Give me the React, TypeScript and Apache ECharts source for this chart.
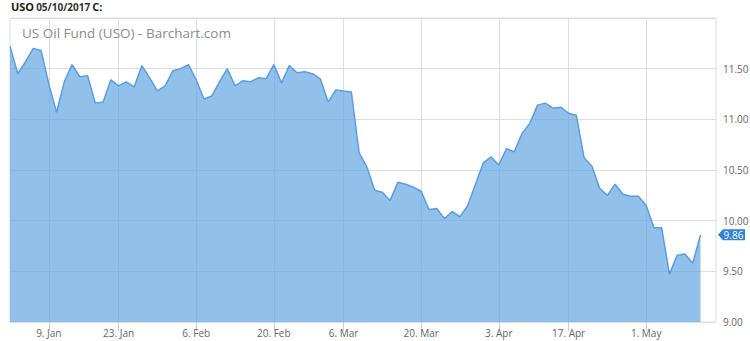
import React, { useEffect, useRef } from "react";
import * as echarts from "echarts";

// Trading days (2016-12-30 .. 2017-05-10) plus two empty future slots on the axis
const dates: string[] = [
  "2016-12-30",
  "2017-01-03", "2017-01-04", "2017-01-05", "2017-01-06",
  "2017-01-09", "2017-01-10", "2017-01-11", "2017-01-12", "2017-01-13",
  "2017-01-17", "2017-01-18", "2017-01-19", "2017-01-20",
  "2017-01-23", "2017-01-24", "2017-01-25", "2017-01-26", "2017-01-27",
  "2017-01-30", "2017-01-31",
  "2017-02-01", "2017-02-02", "2017-02-03",
  "2017-02-06", "2017-02-07", "2017-02-08", "2017-02-09", "2017-02-10",
  "2017-02-13", "2017-02-14", "2017-02-15", "2017-02-16", "2017-02-17",
  "2017-02-21", "2017-02-22", "2017-02-23", "2017-02-24",
  "2017-02-27", "2017-02-28",
  "2017-03-01", "2017-03-02", "2017-03-03",
  "2017-03-06", "2017-03-07", "2017-03-08", "2017-03-09", "2017-03-10",
  "2017-03-13", "2017-03-14", "2017-03-15", "2017-03-16", "2017-03-17",
  "2017-03-20", "2017-03-21", "2017-03-22", "2017-03-23", "2017-03-24",
  "2017-03-27", "2017-03-28", "2017-03-29", "2017-03-30", "2017-03-31",
  "2017-04-03", "2017-04-04", "2017-04-05", "2017-04-06", "2017-04-07",
  "2017-04-10", "2017-04-11", "2017-04-12", "2017-04-13",
  "2017-04-17", "2017-04-18", "2017-04-19", "2017-04-20", "2017-04-21",
  "2017-04-24", "2017-04-25", "2017-04-26", "2017-04-27", "2017-04-28",
  "2017-05-01", "2017-05-02", "2017-05-03", "2017-05-04", "2017-05-05",
  "2017-05-08", "2017-05-09", "2017-05-10",
  "2017-05-11", "2017-05-12",
];

// USO closing prices
const closes: number[] = [
  11.72,
  11.45, 11.57, 11.70, 11.68,
  11.35, 11.07, 11.37, 11.54, 11.42,
  11.43, 11.16, 11.17, 11.39,
  11.33, 11.37, 11.32, 11.53, 11.41,
  11.28, 11.33,
  11.48, 11.50, 11.54,
  11.39, 11.20, 11.23, 11.37, 11.50,
  11.33, 11.38, 11.37, 11.41, 11.40,
  11.54, 11.36, 11.53, 11.46,
  11.47, 11.45,
  11.40, 11.17, 11.29,
  11.28, 11.27, 10.67, 10.53, 10.30,
  10.28, 10.20, 10.38, 10.36, 10.33,
  10.29, 10.11, 10.12, 10.02, 10.09,
  10.04, 10.15, 10.36, 10.57, 10.63,
  10.55, 10.71, 10.68, 10.86, 10.96,
  11.14, 11.16, 11.11, 11.12,
  11.06, 11.04, 10.62, 10.54, 10.32,
  10.25, 10.36, 10.26, 10.24, 10.24,
  10.15, 9.93, 9.93, 9.47, 9.66,
  9.67, 9.58, 9.86,
];

// x-axis tick positions (trading day) and their labels
const tickDates: string[] = [
  "2017-01-09", "2017-01-23", "2017-02-06", "2017-02-21", "2017-03-06",
  "2017-03-20", "2017-04-03", "2017-04-17", "2017-05-01",
];
const tickLabels: string[] = [
  "9. Jan", "23. Jan", "6. Feb", "20. Feb", "6. Mar",
  "20. Mar", "3. Apr", "17. Apr", "1. May",
];

const FONT = "'Open Sans', 'Noto Sans', sans-serif";

export default function App() {
  const ref = useRef<HTMLDivElement>(null);

  useEffect(() => {
    if (!ref.current) return;
    const chart = echarts.init(ref.current, undefined, { renderer: "svg" });
    const labelOf: Record<string, string> = {};
    tickDates.forEach((d, i) => (labelOf[d] = tickLabels[i]));
    const isTick = (_i: number, v: string) => labelOf[v] !== undefined;
    const lastIdx = closes.length - 1;
    const last = closes[lastIdx];

    chart.setOption({
      animation: false,
      textStyle: { fontFamily: FONT },
      title: [
        {
          text: "{b|USO}{n|05/10/2017}{b|C:}",
          left: 11,
          top: 1,
          padding: 0,
          textStyle: {
            rich: {
              b: { fontSize: 11, fontWeight: "bold", color: "#1a1a1a", fontFamily: FONT },
              n: { fontSize: 10, color: "#333", fontFamily: FONT, padding: [0, 2, 0, 2] },
            },
          },
        },
        {
          text: "US Oil Fund (USO) - Barchart.com",
          left: 22,
          top: 26,
          padding: 0,
          textStyle: { fontSize: 13.5, fontWeight: "normal", color: "#8c8c8c", fontFamily: FONT },
        },
      ],
      grid: {
        left: 10,
        right: 34,
        top: 18,
        bottom: 19,
        show: true,
        borderColor: "#dedede",
        borderWidth: 1,
        outerBoundsMode: "none",
      },
      xAxis: {
        type: "category",
        data: dates,
        boundaryGap: false,
        axisLine: { show: false },
        axisTick: { show: true, interval: isTick, length: 9, lineStyle: { color: "#c4d3e3" } },
        axisLabel: {
          interval: isTick,
          formatter: (v: string) => labelOf[v] || "",
          color: "#666",
          fontSize: 10,
          margin: 6,
          fontFamily: FONT,
        },
        splitLine: { show: true, interval: isTick, lineStyle: { color: "#dedede", width: 1 } },
      },
      yAxis: {
        type: "value",
        position: "right",
        min: 9,
        max: 12,
        interval: 0.5,
        axisLine: { show: false },
        axisTick: { show: false },
        axisLabel: {
          formatter: (v: number) => v.toFixed(2),
          color: "#666",
          fontSize: 10,
          margin: 7,
          showMaxLabel: false,
          fontFamily: FONT,
        },
        splitLine: { lineStyle: { color: "#dedede", width: 1 } },
      },
      series: [
        {
          type: "line",
          data: closes,
          symbol: "none",
          lineStyle: { color: "#5a9ee0", width: 1.5 },
          areaStyle: { color: "rgb(99,165,226)", opacity: 0.7 },
          markPoint: {
            symbol: "path://M0,5.5L5,0L27,0L27,11L5,11Z",
            symbolSize: [27, 11],
            symbolKeepAspect: false,
            symbolOffset: [31, 0],
            itemStyle: { color: "#2f82d6" },
            label: {
              show: true,
              position: "inside",
              color: "#fff",
              fontSize: 10,
              offset: [2, 0],
              fontFamily: FONT,
              formatter: (p: any) => Number(p.value).toFixed(2),
            },
            data: [{ coord: [dates[lastIdx], last], value: last }],
          },
        },
      ],
    });

    return () => chart.dispose();
  }, []);

  return (
    <div
      ref={ref}
      style={{ position: "fixed", left: 0, top: 0, width: 750, height: 341, background: "#fff" }}
    />
  );
}
